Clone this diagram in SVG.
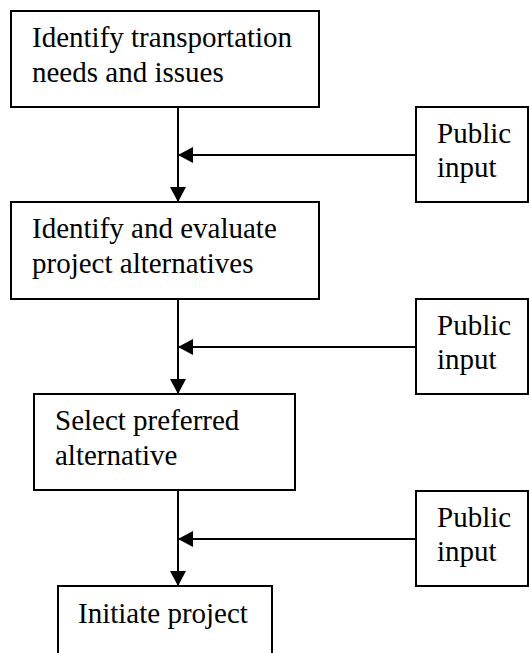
<svg xmlns="http://www.w3.org/2000/svg" width="529" height="653" viewBox="0 0 529 653">
  <style>
    .box { fill: #ffffff; stroke: #000000; stroke-width: 2; }
    .lbl { font-family: "Liberation Serif", "Times New Roman", serif; font-size: 29px; fill: #000000; }
    .edge { stroke: #000000; stroke-width: 2; fill: none; marker-end: url(#arrow); }
  </style>
  <defs>
    <marker id="arrow" markerUnits="userSpaceOnUse" markerWidth="16" markerHeight="16" refX="15" refY="8" orient="auto">
      <path d="M0,0 L15,8 L0,16 Z" fill="#000000"/>
    </marker>
  </defs>
  <rect width="529" height="653" fill="#ffffff"/>

  <!-- process steps -->
  <g id="step-needs">
    <rect class="box" x="11" y="11" width="308" height="96"/>
    <text class="lbl" x="32" y="47">Identify transportation</text>
    <text class="lbl" x="32" y="82">needs and issues</text>
  </g>
  <g id="step-alternatives">
    <rect class="box" x="11" y="202" width="308" height="97"/>
    <text class="lbl" x="32" y="238">Identify and evaluate</text>
    <text class="lbl" x="32" y="273">project alternatives</text>
  </g>
  <g id="step-select">
    <rect class="box" x="34" y="394" width="261" height="96"/>
    <text class="lbl" x="55" y="430">Select preferred</text>
    <text class="lbl" x="55" y="465">alternative</text>
  </g>
  <g id="step-initiate">
    <rect class="box" x="58" y="586" width="214" height="100"/>
    <text class="lbl" x="78" y="623">Initiate project</text>
  </g>

  <!-- public input sources -->
  <g id="input-1">
    <rect class="box" x="416" y="107" width="112" height="95"/>
    <text class="lbl" x="437" y="143">Public</text>
    <text class="lbl" x="437" y="177">input</text>
  </g>
  <g id="input-2">
    <rect class="box" x="416" y="299" width="112" height="95"/>
    <text class="lbl" x="437" y="335">Public</text>
    <text class="lbl" x="437" y="369">input</text>
  </g>
  <g id="input-3">
    <rect class="box" x="416" y="491" width="112" height="95"/>
    <text class="lbl" x="437" y="527">Public</text>
    <text class="lbl" x="437" y="561">input</text>
  </g>

  <!-- connectors -->
  <g id="connectors">
    <line class="edge" x1="178" y1="107" x2="178" y2="202"/>
    <line class="edge" x1="416" y1="155" x2="178" y2="155"/>
    <line class="edge" x1="178" y1="299" x2="178" y2="394"/>
    <line class="edge" x1="416" y1="347" x2="178" y2="347"/>
    <line class="edge" x1="178" y1="490" x2="178" y2="586"/>
    <line class="edge" x1="416" y1="539" x2="178" y2="539"/>
  </g>
</svg>
